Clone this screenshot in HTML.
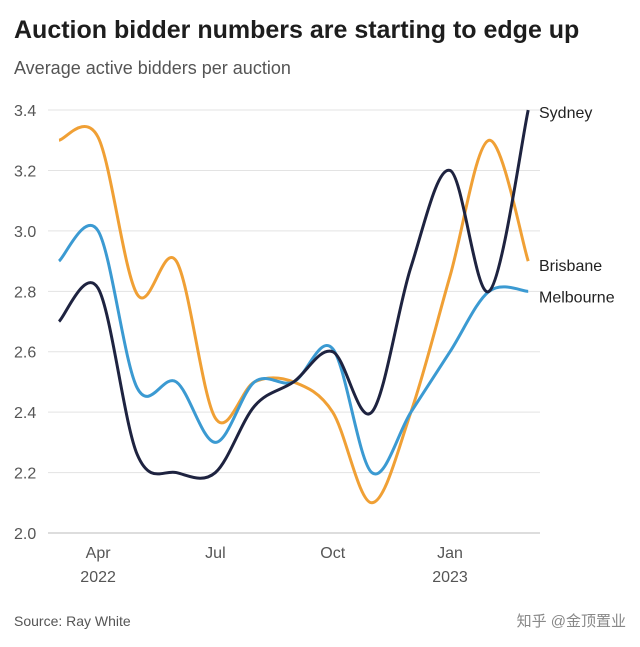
<!DOCTYPE html>
<html><head><meta charset="utf-8"><style>
body{margin:0;background:#fff;width:640px;height:642px;overflow:hidden;font-family:"Liberation Sans","Noto Sans CJK SC",sans-serif;}
</style></head><body>
<svg width="640" height="642" xmlns="http://www.w3.org/2000/svg">
<text x="14" y="38" font-size="25" font-weight="bold" fill="#1d1d1d">Auction bidder numbers are starting to edge up</text>
<text x="14" y="74" font-size="18" fill="#555">Average active bidders per auction</text>
<g id="grid"></g><g id="series"></g><g id="labels"></g>
<text x="14" y="626" font-size="14" fill="#555">Source: Ray White</text>
<text x="626" y="626" font-size="15" fill="#888" text-anchor="end">知乎 @金顶置业</text>
</svg>
<script>
const months=["Mar","Apr","May","Jun","Jul","Aug","Sep","Oct","Nov","Dec","Jan","Feb","Mar"];
const sydney=[2.7,2.81,2.26,2.2,2.2,2.42,2.5,2.6,2.4,2.88,3.2,2.8,3.4];
const melbourne=[2.9,3.0,2.48,2.5,2.3,2.5,2.5,2.61,2.2,2.4,2.6,2.8,2.8];
const brisbane=[3.3,3.31,2.79,2.9,2.38,2.5,2.5,2.4,2.1,2.4,2.85,3.3,2.9];
const yTicks=[2.0,2.2,2.4,2.6,2.8,3.0,3.2,3.4];
const xTickIdx=[1,4,7,10];
const xTickLabels=["Apr","Jul","Oct","Jan"];
const yearLabels=[{i:1,t:"2022"},{i:10,t:"2023"}];
const NS="http://www.w3.org/2000/svg";
const x=i=>59+i*39.1;
const y=v=>533-(v-2.0)*302.1;
function mk(tag,attrs,parent){const e=document.createElementNS(NS,tag);for(const k in attrs)e.setAttribute(k,attrs[k]);parent.appendChild(e);return e;}
const grid=document.getElementById('grid');
yTicks.forEach(t=>{
 const l=mk('line',{x1:48,x2:540,y1:y(t),y2:y(t),stroke:t===2?'#bbb':'#e3e3e3','stroke-width':1},grid);
 
 
 const tx=mk('text',{x:14,y:y(t)+6,'font-size':16,fill:'#555'},grid);
 tx.textContent=t.toFixed(1);
 
 
});
xTickIdx.forEach((i,k)=>{
 const tx=mk('text',{x:x(i),y:558,'font-size':16,fill:'#555','text-anchor':'middle'},grid);
 tx.textContent=xTickLabels[k];
 
 
});
yearLabels.forEach(o=>{
 const tx=mk('text',{x:x(o.i),y:582,'font-size':16,fill:'#555','text-anchor':'middle'},grid);
 tx.textContent=o.t;
 
 
});
function path(vals){
 const n=vals.length,P=vals.map((v,i)=>[x(i),y(v)]);
 let s=`M${P[0][0]},${P[0][1]}`;
 for(let i=0;i<n-1;i++){
  const p0=P[Math.max(0,i-1)],p1=P[i],p2=P[i+1],p3=P[Math.min(n-1,i+2)];
  const c1=[p1[0]+(p2[0]-p0[0])/6,p1[1]+(p2[1]-p0[1])/6];
  const c2=[p2[0]-(p3[0]-p1[0])/6,p2[1]-(p3[1]-p1[1])/6];
  s+=`C${c1[0]},${c1[1]} ${c2[0]},${c2[1]} ${p2[0]},${p2[1]}`;
 }
 return s;
}
const ser=document.getElementById('series');
[[brisbane,'#f0a035','brisbane-line'],[melbourne,'#3b9ad2','melbourne-line'],[sydney,'#1e2340','sydney-line']].forEach(([v,c,n])=>{
 const p=mk('path',{d:path(v),fill:'none',stroke:c,'stroke-width':3},ser);
 
 
});
const lab=document.getElementById('labels');
[["Sydney",sydney,8],["Brisbane",brisbane,10],["Melbourne",melbourne,11]].forEach(([t,v,dy])=>{
 const tx=mk('text',{x:539,y:y(v[v.length-1])+dy,'font-size':16,fill:'#222'},lab);
 tx.textContent=t;
 
 
});
</script>
</body></html>
